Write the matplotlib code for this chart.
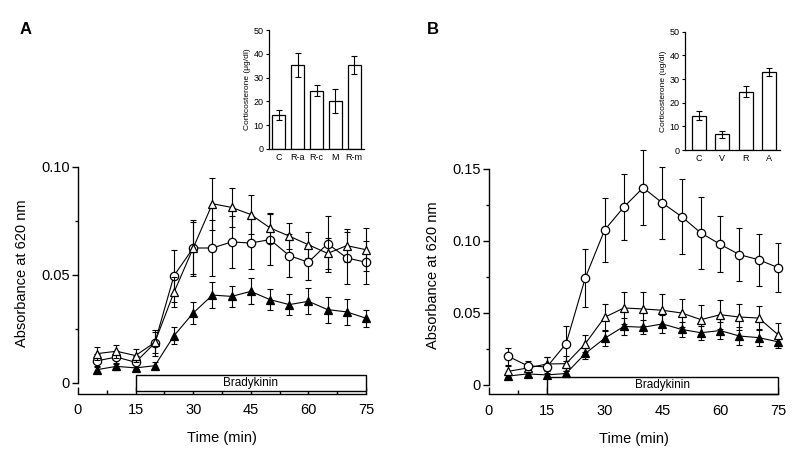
import matplotlib
matplotlib.use("Agg")
import matplotlib.pyplot as plt
from matplotlib.patches import Rectangle
from matplotlib.ticker import MultipleLocator

plt.rcParams['font.family'] = ['Liberation Sans', 'DejaVu Sans']

time = [5, 10, 15, 20, 25, 30, 35, 40, 45, 50, 55, 60, 65, 70, 75]

# Panel A
a_open_tri = [0.0136, 0.0147, 0.0127, 0.0188, 0.042, 0.0625, 0.083, 0.0813, 0.078,
              0.0718, 0.068, 0.064, 0.060, 0.0636, 0.0617]
a_open_tri_err = [0.003, 0.003, 0.003, 0.005, 0.007, 0.012, 0.012, 0.009, 0.009,
                  0.007, 0.006, 0.006, 0.007, 0.0075, 0.010]
a_circle = [0.0103, 0.012, 0.0096, 0.0185, 0.0497, 0.0625, 0.0625, 0.0653, 0.0648,
            0.0664, 0.059, 0.0559, 0.0645, 0.0579, 0.0559]
a_circle_err = [0.003, 0.003, 0.003, 0.006, 0.012, 0.013, 0.013, 0.012, 0.012,
                0.012, 0.010, 0.008, 0.013, 0.012, 0.010]
filled_tri = [0.0062, 0.0077, 0.0070, 0.0080, 0.0219, 0.0324, 0.0407, 0.0401, 0.0424,
              0.0386, 0.0363, 0.0378, 0.0340, 0.0329, 0.0300]
filled_tri_err = [0.0015, 0.0015, 0.0015, 0.0015, 0.004, 0.005, 0.006, 0.005, 0.006,
                  0.005, 0.005, 0.006, 0.006, 0.006, 0.004]

# Panel B
b_circle = [0.0199, 0.0134, 0.0125, 0.0287, 0.0745, 0.1076, 0.1236, 0.137, 0.1264,
            0.1169, 0.1056, 0.0977, 0.0905, 0.087, 0.0815]
b_circle_err = [0.006, 0.003, 0.007, 0.012, 0.020, 0.022, 0.023, 0.026, 0.025,
                0.026, 0.025, 0.0195, 0.0185, 0.018, 0.017]
b_open_tri = [0.0095, 0.0118, 0.0146, 0.0148, 0.0287, 0.047, 0.0535, 0.0528, 0.0519,
              0.050, 0.0454, 0.0488, 0.0472, 0.0465, 0.035]
b_open_tri_err = [0.004, 0.003, 0.005, 0.005, 0.006, 0.009, 0.011, 0.0115, 0.011,
                  0.0097, 0.010, 0.010, 0.009, 0.0085, 0.008]

# Insets
inset_a_cats = ['C', 'R-a', 'R-c', 'M', 'R-m']
inset_a_vals = [14.3, 35.3, 24.4, 20.1, 35.3]
inset_a_err = [2.0, 5.0, 2.3, 5.0, 3.6]
inset_b_cats = ['C', 'V', 'R', 'A']
inset_b_vals = [14.5, 6.6, 24.6, 32.8]
inset_b_err = [2.0, 1.6, 2.4, 1.7]

stim_start, stim_end = 15, 75

W, H = 800, 458
fig = plt.figure(figsize=(W / 100, H / 100), dpi=100)


def px_rect(l, r, t, b):
    return [l / W, (H - b) / H, (r - l) / W, (b - t) / H]


def main_panel(rect, ylo, yhi, ymajor, series, bar_lo, bar_hi):
    ax = fig.add_axes(rect)
    ax.set_xlim(0, 75)
    ax.set_ylim(ylo, yhi)
    for s in ['top', 'right']:
        ax.spines[s].set_visible(False)
    ax.spines['left'].set_bounds(0, yhi)
    for s in ['left', 'bottom']:
        ax.spines[s].set_linewidth(1.0)
    ax.xaxis.set_major_locator(MultipleLocator(15))
    ax.xaxis.set_minor_locator(MultipleLocator(7.5))
    ax.yaxis.set_major_locator(MultipleLocator(ymajor))
    ax.yaxis.set_minor_locator(MultipleLocator(ymajor / 2))
    ax.tick_params(axis='x', which='major', direction='in', length=5, width=1, labelsize=10.5, pad=7)
    ax.tick_params(axis='x', which='minor', direction='in', length=3, width=1)
    ax.tick_params(axis='y', which='major', direction='out', length=4, width=1, labelsize=10.5, pad=2)
    ax.tick_params(axis='y', which='minor', direction='out', length=2.5, width=1)
    ax.xaxis.set_major_formatter(plt.FuncFormatter(lambda v, p: f"{int(v)}"))
    ax.yaxis.set_major_formatter(plt.FuncFormatter(lambda v, p: "0" if abs(v) < 1e-9 else f"{v:.2f}"))
    ax.set_xlabel('Time (min)', fontsize=10.5, labelpad=10)
    ax.set_ylabel('Absorbance at 620 nm', fontsize=10.5, labelpad=9)
    ax.yaxis.label.set_y(0.53)
    ax.add_patch(Rectangle((stim_start, bar_lo), stim_end - stim_start, bar_hi - bar_lo,
                           facecolor='white', edgecolor='black', linewidth=1.0, zorder=2, clip_on=False))
    ax.text((stim_start + stim_end) / 2, (bar_lo + bar_hi) / 2, 'Bradykinin', ha='center', va='center',
            fontsize=8.5, zorder=3)
    for (vals, errs, marker, fc, z) in series:
        ax.errorbar(time, vals, yerr=errs, fmt='none', ecolor='black', elinewidth=0.8,
                    capsize=2.5, capthick=0.8, zorder=z, clip_on=False)
        ax.plot(time, vals, color='black', linewidth=0.8, marker=marker, markersize=6,
                markerfacecolor=fc, markeredgecolor='black', markeredgewidth=0.9, zorder=z + 0.5,
                clip_on=False)
    return ax


# Panel A main: x 78..366, y 0.10 at 167, 0 at 383, axis at 393.5
ppu_a = (383 - 167) / 0.10
ylo_a = -(393.5 - 383) / ppu_a
main_panel(px_rect(78, 366, 167, 393.5), ylo_a, 0.10, 0.05,
           [(filled_tri, filled_tri_err, '^', 'black', 4),
            (a_circle, a_circle_err, 'o', 'white', 5),
            (a_open_tri, a_open_tri_err, '^', 'white', 6)],
           -0.0035, 0.0037)

# Panel B main: x 489..778, y 0.15 at 169, 0 at 385, axis at 394
ppu_b = (385 - 169) / 0.15
ylo_b = -(394 - 385) / ppu_b
main_panel(px_rect(489, 778, 169, 394), ylo_b, 0.15, 0.05,
           [(filled_tri, filled_tri_err, '^', 'black', 4),
            (b_open_tri, b_open_tri_err, '^', 'white', 5),
            (b_circle, b_circle_err, 'o', 'white', 6)],
           ylo_b, 0.0056)


def inset(rect, cats, vals, errs, xlo, xhi, width, ylabel):
    ax = fig.add_axes(rect)
    x = list(range(len(cats)))
    ax.bar(x, vals, width=width, color='white', edgecolor='black', linewidth=0.9, zorder=2)
    ax.errorbar(x, vals, yerr=errs, fmt='none', ecolor='black', elinewidth=0.8,
                capsize=2.5, capthick=0.8, zorder=3)
    ax.set_xlim(xlo, xhi)
    ax.set_ylim(0, 50)
    ax.set_yticks([0, 10, 20, 30, 40, 50])
    ax.set_xticks(x)
    ax.set_xticklabels(cats)
    for s in ['top', 'right']:
        ax.spines[s].set_visible(False)
    for s in ['left', 'bottom']:
        ax.spines[s].set_linewidth(0.9)
    ax.tick_params(axis='y', direction='out', length=2.5, width=0.8, labelsize=6.5, pad=1.5)
    ax.tick_params(axis='x', length=0, labelsize=6.5, pad=3)
    ax.set_ylabel(ylabel, fontsize=6, labelpad=2)
    return ax


inset(px_rect(269, 364, 30, 149), inset_a_cats, inset_a_vals, inset_a_err, -0.53, 4.53, 0.69,
      'Corticosterone (\u03bcg/dl)')
inset(px_rect(685, 780, 31.7, 150), inset_b_cats, inset_b_vals, inset_b_err, -0.6, 3.47, 0.6,
      'Corticosterone (ug/dl)')

fig.text(20 / W, 1 - 29 / H, 'A', fontsize=12, fontweight='bold', ha='left', va='center')
fig.text(427 / W, 1 - 29 / H, 'B', fontsize=12, fontweight='bold', ha='left', va='center')

fig.savefig('out.png', dpi=100)
